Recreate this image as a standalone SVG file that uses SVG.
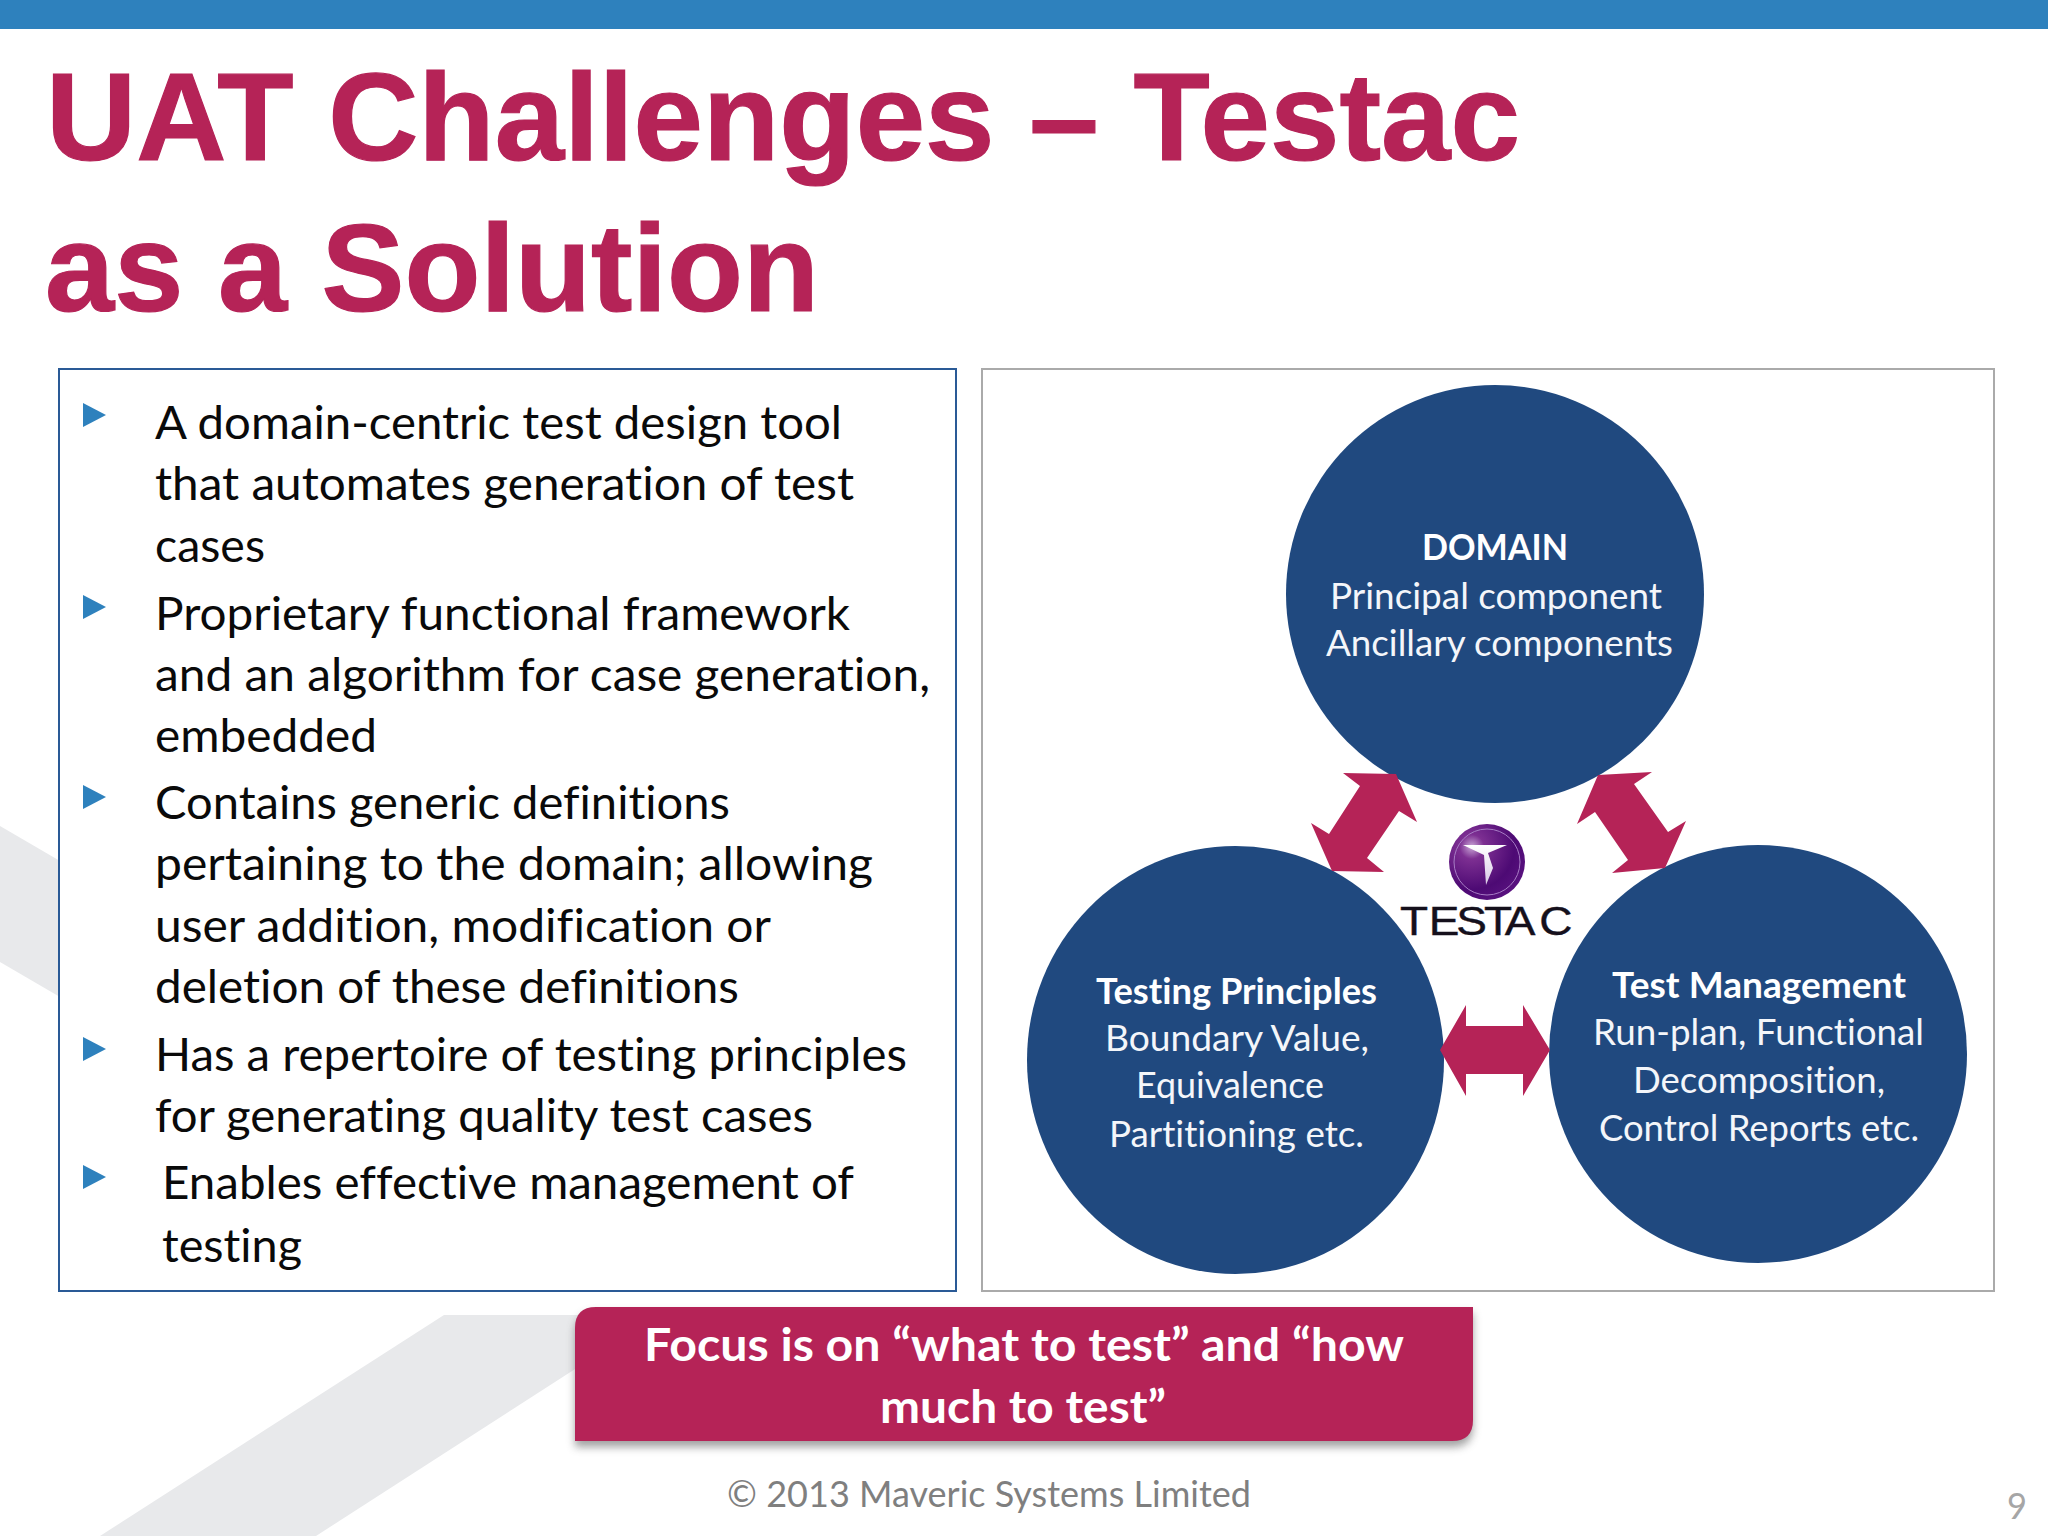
<svg xmlns="http://www.w3.org/2000/svg" width="2048" height="1536" viewBox="0 0 2048 1536">
<style>
text{font-variant-ligatures:none}
.t{font-family:"Liberation Sans",Arial,sans-serif;font-weight:700;font-size:124.5px;fill:#b52357;stroke:#b52357;stroke-width:1.2px}
.b{font-family:Lato,"Noto Sans",sans-serif;font-size:47px;fill:#0a0a0a}
.c{font-family:Lato,"Noto Sans",sans-serif;font-size:37px;fill:#f4f6fa}
.cb{font-weight:700;fill:#fff}
.f{font-family:Lato,"Noto Sans",sans-serif;font-weight:700;font-size:46px;fill:#fff}
.n{fill:#20497f}
.a{fill:#b52357}
.bu{fill:#2e81bd}
</style>
<defs>
<radialGradient id="orb" cx="0.3" cy="0.3" r="0.8"><stop offset="0" stop-color="#c9a6d6"/><stop offset="0.2" stop-color="#7d2f92"/><stop offset="0.7" stop-color="#4d0a74"/><stop offset="1" stop-color="#5a1280"/></radialGradient>
<linearGradient id="tg" x1="0" y1="0" x2="0" y2="1"><stop offset="0" stop-color="#fff"/><stop offset="1" stop-color="#d9c8e6"/></linearGradient>
<filter id="sh" x="-5%" y="-10%" width="110%" height="125%"><feGaussianBlur stdDeviation="4"/></filter>
</defs>
<rect width="2048" height="1536" fill="#fff"/>
<rect id="topband" width="2048" height="29" fill="#2e81bd"/>
<g id="background-stripes" fill="#e8e9eb">
<polygon points="0,826 60,861 60,997 0,962"/>
<polygon points="444,1315 600,1315 600,1353 316,1536 100,1536"/>
</g>
<g id="title">
<text class="t" x="46" y="160" textLength="1474" lengthAdjust="spacingAndGlyphs">UAT Challenges – Testac</text>
<text class="t" x="45" y="311" textLength="774" lengthAdjust="spacingAndGlyphs">as a Solution</text>
</g>
<g id="text-panel">
<rect x="59" y="369" width="897" height="922" fill="#fff" stroke="#2a5a96" stroke-width="2"/>
<polygon class="bu" points="83,403 106,415 83,427"/>
<polygon class="bu" points="83,595 106,607 83,619"/>
<polygon class="bu" points="83,785 106,797 83,809"/>
<polygon class="bu" points="83,1037 106,1049 83,1061"/>
<polygon class="bu" points="83,1165 106,1177 83,1189"/>
<text class="b" x="155" y="439" textLength="687" lengthAdjust="spacingAndGlyphs">A domain-centric test design tool</text>
<text class="b" x="155" y="500" textLength="699" lengthAdjust="spacingAndGlyphs">that automates generation of test</text>
<text class="b" x="155" y="562" textLength="110" lengthAdjust="spacingAndGlyphs">cases</text>
<text class="b" x="155" y="630" textLength="695" lengthAdjust="spacingAndGlyphs">Proprietary functional framework</text>
<text class="b" x="155" y="691" textLength="775" lengthAdjust="spacingAndGlyphs">and an algorithm for case generation,</text>
<text class="b" x="155" y="752" textLength="222" lengthAdjust="spacingAndGlyphs">embedded</text>
<text class="b" x="155" y="819" textLength="575" lengthAdjust="spacingAndGlyphs">Contains generic definitions</text>
<text class="b" x="155" y="880" textLength="718" lengthAdjust="spacingAndGlyphs">pertaining to the domain; allowing</text>
<text class="b" x="155" y="942" textLength="616" lengthAdjust="spacingAndGlyphs">user addition, modification or</text>
<text class="b" x="155" y="1003" textLength="584" lengthAdjust="spacingAndGlyphs">deletion of these definitions</text>
<text class="b" x="155" y="1071" textLength="752" lengthAdjust="spacingAndGlyphs">Has a repertoire of testing principles</text>
<text class="b" x="155" y="1132" textLength="658" lengthAdjust="spacingAndGlyphs">for generating quality test cases</text>
<text class="b" x="162" y="1199" textLength="692" lengthAdjust="spacingAndGlyphs">Enables effective management of</text>
<text class="b" x="162" y="1262" textLength="140" lengthAdjust="spacingAndGlyphs">testing</text>
</g>
<rect id="diagram-frame" x="982" y="369" width="1012" height="922" fill="#fff" stroke="#aaa" stroke-width="2"/>
<g id="node-domain">
<circle class="n" cx="1495" cy="594" r="209"/>
<text class="c cb" x="1422" y="560" textLength="146" lengthAdjust="spacingAndGlyphs">DOMAIN</text>
<text class="c" x="1330" y="609" textLength="332" lengthAdjust="spacingAndGlyphs">Principal component</text>
<text class="c" x="1326" y="656" textLength="347" lengthAdjust="spacingAndGlyphs">Ancillary components</text>
</g>
<g id="node-testing-principles">
<ellipse class="n" cx="1235.500" cy="1060" rx="208.500" ry="214"/>
<text class="c cb" x="1096" y="1004" textLength="281" lengthAdjust="spacingAndGlyphs">Testing Principles</text>
<text class="c" x="1105" y="1051" textLength="264" lengthAdjust="spacingAndGlyphs">Boundary Value,</text>
<text class="c" x="1136" y="1098" textLength="188" lengthAdjust="spacingAndGlyphs">Equivalence</text>
<text class="c" x="1109" y="1147" textLength="255" lengthAdjust="spacingAndGlyphs">Partitioning etc.</text>
</g>
<g id="node-test-management">
<circle class="n" cx="1758" cy="1054" r="209"/>
<text class="c cb" x="1612" y="998" textLength="294" lengthAdjust="spacingAndGlyphs">Test Management</text>
<text class="c" x="1593" y="1045" textLength="331" lengthAdjust="spacingAndGlyphs">Run-plan, Functional</text>
<text class="c" x="1633" y="1093" textLength="252" lengthAdjust="spacingAndGlyphs">Decomposition,</text>
<text class="c" x="1599" y="1141" textLength="320" lengthAdjust="spacingAndGlyphs">Control Reports etc.</text>
</g>
<g id="connectors">
<polygon class="a" points="1343,773 1396,774 1417,822 1399,811 1367,858 1384,872 1332,871 1311,823 1329,834 1360,786"/>
<polygon class="a" points="1652,772 1598,775 1577,824 1595,812 1628,860 1612,873 1665,868 1686,821 1668,832 1634,784"/>
<polygon class="a" points="1440,1050 1466,1005 1466,1026 1523,1026 1523,1005 1550,1050 1523,1096 1523,1074 1466,1074 1466,1096"/>
</g>
<g id="node-testac-logo">
<circle cx="1487" cy="862" r="38" fill="url(#orb)"/>
<circle cx="1487" cy="862" r="33" fill="none" stroke="#a77cc4" stroke-width="1"/>
<polygon points="1463,845 1507,845 1488,853 1493,868 1486,885 1484,855" fill="url(#tg)"/>
<text transform="translate(1400,935) scale(1.15,1)" x="0 25 49 73 91 121" y="0" font-family="'Liberation Sans',Arial,sans-serif" font-size="40" fill="#15101c" stroke="#15101c" stroke-width="0.4">TESTAC</text>
</g>
<g id="callout">
<path d="M575,1447 H1452 Q1473,1447 1473,1426 V1313 H596 Q575,1313 575,1334 Z" fill="#555" opacity="0.55" filter="url(#sh)"/>
<path d="M575,1441 H1452 Q1473,1441 1473,1420 V1307 H596 Q575,1307 575,1328 Z" fill="#b52357"/>
<text class="f" x="644" y="1361" textLength="760" lengthAdjust="spacingAndGlyphs">Focus is on “what to test” and “how</text>
<text class="f" x="880" y="1423" textLength="286" lengthAdjust="spacingAndGlyphs">much to test”</text>
</g>
<g id="footer">
<text x="727" y="1507" font-family="Lato,'Noto Sans',sans-serif" font-size="36" fill="#7f7f7f" textLength="524" lengthAdjust="spacingAndGlyphs">© 2013 Maveric Systems Limited</text>
<text x="2007" y="1519" font-family="Lato,'Noto Sans',sans-serif" font-size="36" fill="#a6a6a6" textLength="20" lengthAdjust="spacingAndGlyphs">9</text>
</g>
</svg>
